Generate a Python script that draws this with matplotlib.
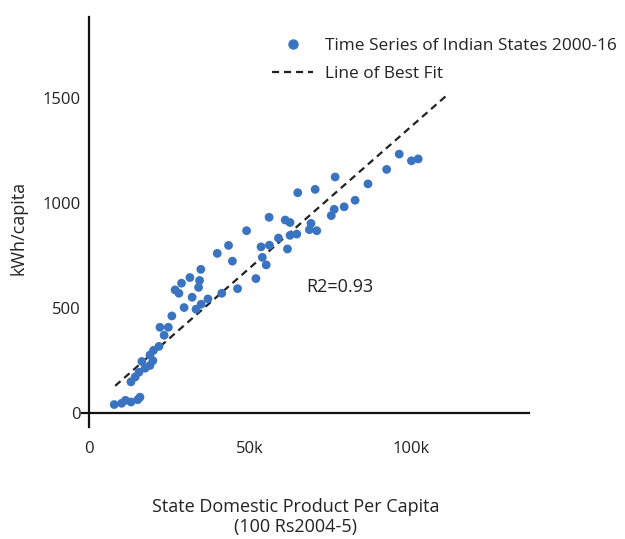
import matplotlib
matplotlib.use("Agg")
import matplotlib.pyplot as plt
from matplotlib.lines import Line2D
import numpy as np

plt.rcParams['font.family'] = ['Open Sans', 'DejaVu Sans']

# State Domestic Product per capita (thousands of 100 Rs 2004-5)
sdp_k = [7.8, 10.1, 11.3, 13.0, 15.1, 15.8, 13.0, 14.3, 15.5, 17.4,
         16.4, 18.9, 19.8, 18.9, 20.0, 21.7, 23.3, 22.0, 24.6, 25.7,
         29.5, 33.2, 34.8, 36.9, 41.2, 46.1, 32.0, 26.7, 27.9, 28.7,
         31.3, 34.3, 34.0, 34.7, 39.8, 43.3, 44.5, 48.9, 51.8, 53.4,
         56.0, 53.8, 55.0, 55.9, 58.8, 60.9, 62.4, 62.4, 61.6, 64.5,
         64.8, 68.9, 68.4, 70.7, 70.2, 76.4, 75.2, 76.1, 79.2, 82.6,
         86.6, 92.4, 96.3, 100.1, 102.2]
# Electricity consumption (kWh per capita)
kwh = [40, 46, 60, 52, 63, 75, 148, 171, 194, 213,
       245, 226, 249, 276, 298, 317, 370, 408, 408, 462,
       502, 494, 518, 543, 570, 592, 551, 586, 570, 618,
       645, 631, 598, 684, 760, 798, 723, 868, 640, 791,
       799, 741, 705, 932, 833, 919, 907, 846, 781, 852,
       1049, 903, 873, 868, 1065, 1124, 940, 970, 982, 1013,
       1091, 1160, 1233, 1201, 1210]

# line of best fit
fit_slope = 13.44      # kWh per 1k
fit_intercept = 20.1
fit_range = [8.1, 111.5]

x_ticks = [0, 50000, 100000]
x_ticklabels = ['0', '50k', '100k']
y_ticks = [0, 500, 1000, 1500]
y_ticklabels = ['0', '500', '1000', '1500']

blue = '#3a74c0'
ink = '#222222'
fs = 13

fig = plt.figure(figsize=(6.25, 5.39), dpi=100)
ax = fig.add_axes([82/625, (539-427)/539, (529-82)/625, (427-17)/539])

x = np.array(sdp_k) * 1000
ax.scatter(x, kwh, s=40, color=blue, edgecolors='none', zorder=3)
fx = np.array(fit_range) * 1000
fy = fit_slope * np.array(fit_range) + fit_intercept
ax.plot(fx, fy, color=ink, linestyle=(0, (3.2, 2.2)), linewidth=1.6, zorder=2)

ax.set_xlim(-2200, 136600)
ax.set_ylim(-67, 1886)

for s in ['top', 'right']:
    ax.spines[s].set_visible(False)
ax.spines['left'].set_position(('data', 0))
ax.spines['bottom'].set_position(('data', 0))
for s in ['left', 'bottom']:
    ax.spines[s].set_linewidth(1.6)
    ax.spines[s].set_color('#111111')

ax.set_xticks(x_ticks)
ax.set_xticklabels(x_ticklabels)
ax.set_yticks(y_ticks)
ax.set_yticklabels(y_ticklabels)
ax.tick_params(axis='both', length=0, labelsize=12, colors=ink)
ax.tick_params(axis='x', pad=20)
ax.tick_params(axis='y', pad=6)

ax.text(78000, 600, 'R2=0.93', fontsize=fs, color=ink, ha='center', va='center')

handles = [Line2D([], [], marker='o', color=blue, linestyle='none', markersize=6.5),
           Line2D([], [], color=ink, linestyle=(0, (3.2, 2.2)), linewidth=1.6)]
ax.legend(handles, ['Time Series of Indian States 2000-16', 'Line of Best Fit'],
          loc='upper left', bbox_to_anchor=(272/625, 1-38/539), bbox_transform=fig.transFigure,
          frameon=False, fontsize=12.4, handlelength=2.4, handletextpad=0.7,
          labelspacing=0.68, borderpad=0, borderaxespad=0, labelcolor=ink)

fig.text(19/625, 1-228/539, 'kWh/capita', rotation=90, ha='center', va='center',
         fontsize=fs, color=ink)
fig.text(296/625, 1-507/539, 'State Domestic Product Per Capita', ha='center', va='center',
         fontsize=fs, color=ink)
fig.text(296/625, 1-527/539, '(100 Rs2004-5)', ha='center', va='center',
         fontsize=fs, color=ink)

fig.savefig('out.png', dpi=100)
